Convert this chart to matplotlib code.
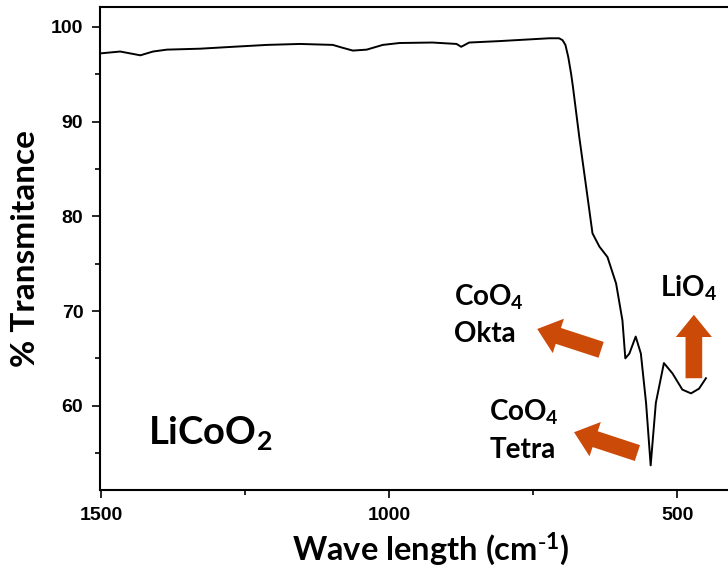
import matplotlib
matplotlib.use('Agg')
import matplotlib.pyplot as plt
from matplotlib.patches import FancyArrowPatch

plt.rcParams['mathtext.default'] = 'regular'

# FTIR spectrum of LiCoO2
wavenumber = [1502, 1467, 1432, 1410, 1386, 1328, 1271, 1212, 1155, 1098, 1081,
              1063, 1039, 1011, 982, 925, 883, 875, 861, 809, 751, 722, 705,
              699, 694, 689, 684, 681, 670, 658, 647, 635, 621, 606, 595,
              590, 583, 572, 563, 554, 546, 537, 523, 508, 491, 476, 462, 450]
transmittance = [97.2, 97.4, 97.0, 97.4, 97.6, 97.7, 97.9, 98.1, 98.2, 98.1, 97.8,
                 97.5, 97.6, 98.1, 98.3, 98.35, 98.2, 97.9, 98.35, 98.5, 98.7, 98.8, 98.8,
                 98.6, 98.1, 96.8, 95.0, 93.7, 88.4, 83.1, 78.2, 76.8, 75.7, 72.9, 69.0,
                 65.0, 65.5, 67.3, 65.5, 60.3, 53.7, 60.3, 64.5, 63.4, 61.7, 61.3, 61.8, 62.9]

# band annotations: (label, text x, text y, arrow tail, arrow tip)
bands = [
    ('CoO$_4$\nOkta', 888, 66.7, (632, 65.9), (743, 68.1)),
    ('CoO$_4$\nTetra', 826, 54.5, (569, 55.0), (679, 57.2)),
    ('LiO$_4$', 530, 71.5, (471, 62.9), (471, 69.6)),
]

orange = '#cc4a08'
label_font = ['Lato', 'DejaVu Sans']
tick_font = ['Liberation Sans Narrow', 'Liberation Sans', 'DejaVu Sans']

fig = plt.figure(figsize=(7.28, 5.8), dpi=100)
ax = fig.add_axes([0.1374, 0.1552, 0.879, 0.8327])

ax.plot(wavenumber, transmittance, color='black', lw=1.4)

ax.set_xlim(1502, 391)
ax.set_ylim(51.1, 102.1)
ax.set_xticks([1500, 1000, 500])
ax.set_xticks([1250, 750], minor=True)
ax.set_yticks([60, 70, 80, 90, 100])
ax.set_yticks([55, 65, 75, 85, 95], minor=True)

for s in ax.spines.values():
    s.set_linewidth(1.5)
ax.spines['right'].set_visible(False)

ax.tick_params(which='major', direction='out', length=6, width=1.2, pad=6)
ax.tick_params(which='minor', direction='out', length=3.5, width=1.2)
for lab in ax.get_xticklabels() + ax.get_yticklabels():
    lab.set_family(tick_font)
    lab.set_fontweight('bold')
    lab.set_fontsize(14)

ax.set_xlabel(r'Wave length (cm$^{\text{-}1}$)', family=label_font, fontweight='bold',
              fontsize=23.5, labelpad=10)
ax.xaxis.set_label_coords(0.516, -0.085)
ax.set_ylabel('% Transmitance', family=label_font, fontweight='bold', fontsize=24, labelpad=8)

ax.text(1419, 56.0, 'LiCoO$_2$', family=label_font, fontweight='bold', fontsize=27.5,
        va='baseline')

for text, tx, ty, tail, tip in bands:
    ax.text(tx, ty, text, family=label_font, fontweight='bold', fontsize=20,
            va='baseline', ha='left', linespacing=1.45)
    arrow = FancyArrowPatch(tail, tip, arrowstyle='simple,head_length=16,head_width=26,tail_width=12',
                            mutation_scale=1, color=orange, shrinkA=0, shrinkB=0, lw=0)
    ax.add_patch(arrow)

fig.savefig('out.png', dpi=100)
